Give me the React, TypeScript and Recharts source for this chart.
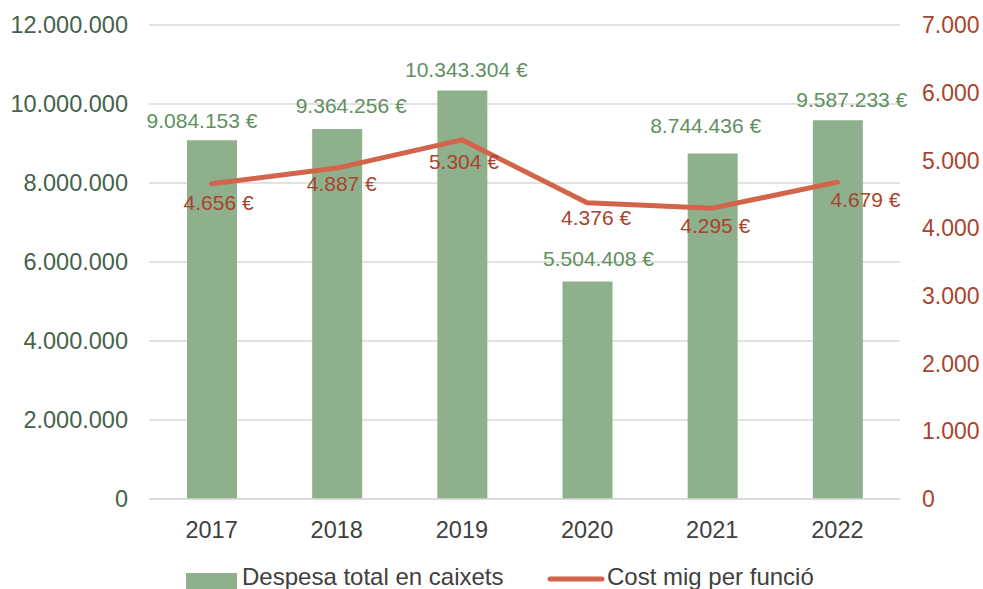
import React from 'react';
import { ComposedChart, Bar, Line, XAxis, YAxis, CartesianGrid, Legend, LabelList } from 'recharts';

const years = ['2017', '2018', '2019', '2020', '2021', '2022'];
const despesaTotal = [9084153, 9364256, 10343304, 5504408, 8744436, 9587233];
const costMig = [4656, 4887, 5304, 4376, 4295, 4679];
const leftTicks = [0, 2000000, 4000000, 6000000, 8000000, 10000000, 12000000];
const rightTicks = [0, 1000, 2000, 3000, 4000, 5000, 6000, 7000];

const BAR_NAME = 'Despesa total en caixets';
const LINE_NAME = 'Cost mig per funció';

// label nudges, hand placed like in the original sheet
const barLabelShift = [[-10, 12], [14, 16], [4, 13], [11, 16], [-7, 21], [14, 13]];
const lineLabelShift = [[7, 26], [5, 23], [2, 29], [9, 22], [3, 25], [28, 25]];

const data = years.map((y, i) => ({ year: y, despesa: despesaTotal[i], cost: costMig[i] }));

const FONT = '"Liberation Sans", Arial, sans-serif';
const BAR_COLOR = '#8FB08C';
const LINE_COLOR = '#D2644A';

const fmt = (v: number) => String(Math.round(v)).replace(/\B(?=(\d{3})+(?!\d))/g, '.');

const BarLabel = (props: any) => {
  const { x, y, width, value, index } = props;
  const [dx, dy] = barLabelShift[index] || [0, 12];
  return (
    <text x={x + width / 2 + dx} y={y - dy} textAnchor="middle" fill="#5F9060" fontSize={21} fontFamily={FONT}>
      {fmt(value)} €
    </text>
  );
};

const LineLabel = (props: any) => {
  const { x, y, value, index } = props;
  const [dx, dy] = lineLabelShift[index] || [0, 24];
  return (
    <text x={x + dx} y={y + dy} textAnchor="middle" fill="#A8442E" fontSize={21} fontFamily={FONT}>
      {fmt(value)} €
    </text>
  );
};

const YearTick = (props: any) => {
  const { x, y, payload } = props;
  return (
    <text x={x} y={y + 37} textAnchor="middle" fill="#404040" fontSize={23.5} fontFamily={FONT}>
      {payload.value}
    </text>
  );
};

const LegendBox = () => (
  <svg width={983} height={26} style={{ display: 'block' }}>
    <rect x={186} y={10} width={51} height={16} fill={BAR_COLOR} />
    <text x={242} y={22} fill="#404040" fontSize={24} fontFamily={FONT}>{BAR_NAME}</text>
    <line x1={550} x2={602} y1={16} y2={16} stroke={LINE_COLOR} strokeWidth={5} strokeLinecap="round" />
    <text x={607} y={22} fill="#404040" fontSize={24} fontFamily={FONT}>{LINE_NAME}</text>
  </svg>
);

export default function App() {
  return (
    <div style={{ position: 'absolute', left: 0, top: 0, width: 983, height: 589, background: '#fff' }}>
      <ComposedChart width={983} height={589} data={data} margin={{ top: 25, right: 0, left: 0, bottom: 0 }} barCategoryGap="30%">
        <CartesianGrid yAxisId="left" vertical={false} stroke="#D9D9D9" strokeWidth={1.3} />
        <XAxis dataKey="year" height={90} tickLine={false} tickSize={0} axisLine={{ stroke: '#D9D9D9', strokeWidth: 1.3 }} tick={<YearTick />} interval={0} />
        <YAxis
          yAxisId="left"
          width={149}
          domain={[0, 12000000]}
          ticks={leftTicks}
          tickFormatter={fmt}
          axisLine={false}
          tickLine={false}
          tickSize={0}
          tickMargin={21}
          tick={{ fill: '#44624A', fontSize: 23.5, fontFamily: FONT }}
        />
        <YAxis
          yAxisId="right"
          orientation="right"
          width={83}
          domain={[0, 7000]}
          ticks={rightTicks}
          tickFormatter={fmt}
          axisLine={false}
          tickLine={false}
          tickSize={0}
          tickMargin={22}
          tick={{ fill: '#A8442E', fontSize: 23, fontFamily: FONT, textAnchor: 'start' }}
        />
        <Bar yAxisId="left" dataKey="despesa" name={BAR_NAME} fill={BAR_COLOR} barSize={50} isAnimationActive={false}>
          <LabelList dataKey="despesa" content={<BarLabel />} />
        </Bar>
        <Line
          yAxisId="right"
          type="linear"
          dataKey="cost"
          name={LINE_NAME}
          stroke={LINE_COLOR}
          strokeWidth={5}
          strokeLinecap="round"
          strokeLinejoin="round"
          dot={false}
          activeDot={false}
          isAnimationActive={false}
        >
          <LabelList dataKey="cost" content={<LineLabel />} />
        </Line>
        <Legend layout="horizontal" verticalAlign="middle" align="center" wrapperStyle={{ top: 563, left: 0, width: 983 }} content={<LegendBox />} />
      </ComposedChart>
    </div>
  );
}
